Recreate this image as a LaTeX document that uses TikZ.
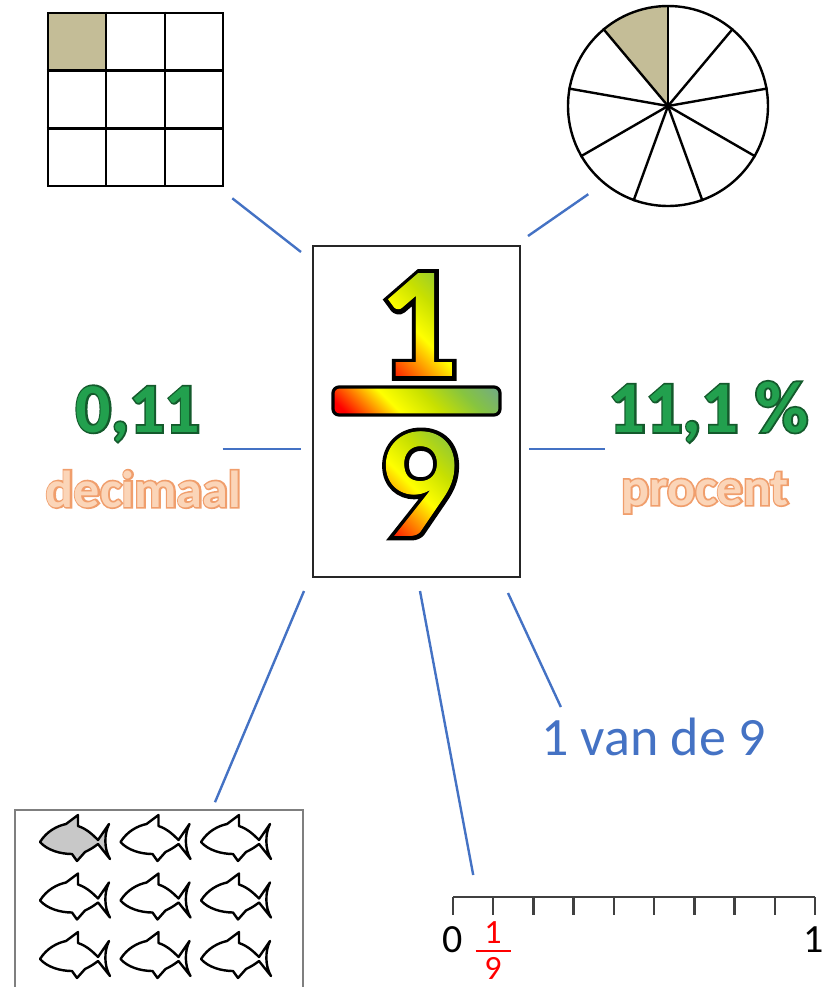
\documentclass[tikz,border=0pt]{standalone}
\usepackage{fontspec}
\setmainfont{Carlito}
\usetikzlibrary{positioning,calc,fadings}

\definecolor{tan}{HTML}{C4BD97}
\definecolor{linkblue}{HTML}{4472C4}
\definecolor{valgreen}{HTML}{22A04E}
\definecolor{valdark}{HTML}{145A2C}
\definecolor{peach}{HTML}{FBD5B8}
\definecolor{peachdark}{HTML}{F09E6C}
\definecolor{fishgray}{HTML}{C8C8C8}
\definecolor{boxgray}{HTML}{7F7F7F}
\definecolor{axisgray}{HTML}{404040}
\definecolor{figorange}{HTML}{FF8C00}
\definecolor{figlime}{HTML}{C8E000}
\definecolor{figgreen}{HTML}{86C440}
\definecolor{figblue}{HTML}{5B8FCF}

\pgfdeclarehorizontalshading{numfill}{100bp}{color(0bp)=(red); color(18bp)=(red); color(34bp)=(figorange); color(47bp)=(yellow); color(63bp)=(figlime); color(82bp)=(figgreen); color(100bp)=(figgreen)}
\pgfdeclarehorizontalshading{barfill}{100bp}{color(0bp)=(red); color(20bp)=(red); color(40bp)=(yellow); color(55bp)=(figlime); color(70bp)=(figgreen); color(100bp)=(figblue)}

\newcommand\bigfig{\rmfamily\bfseries\fontsize{80}{80}\selectfont}
% outline colour under the text, drawn with a stroked copy
\newcommand\edged[3][5]{\rlap{\textcolor{#2}{\addfontfeature{FakeBold=#1}#3}}#3}

% the two numerals as masks for the colour run
\begin{tikzfadingfrompicture}[name=onefade]
  \node[text=transparent!0, inner sep=0pt, font=\bigfig] {1};
\end{tikzfadingfrompicture}
\begin{tikzfadingfrompicture}[name=ninefade]
  \node[text=transparent!0, inner sep=0pt, font=\bigfig] {9};
\end{tikzfadingfrompicture}

\tikzset{fish/.pic = {
  \draw[line width=1.2pt, line join=round, pic actions] (-35,3) .. controls (-28,-8) and (-18,-13) .. (-9,-15)
    -- (3,-24) -- (3,-13) .. controls (12,-10) and (18,-4) .. (23,1) -- (34,-15)
    .. controls (29,-5) and (29,10) .. (35,20) -- (23,5) .. controls (18,9) and (14,11) .. (10,13)
    -- (2,22) -- (-3,15) .. controls (-15,15) and (-28,11) .. cycle;
  \fill (-19,-3) circle (2.5);
}}

\begin{document}
\begin{tikzpicture}[x=0.5pt, y=-0.5pt, node distance=6.5pt,
    link/.style = {draw=linkblue, line width=1.2pt},
    fracbox/.style = {draw=black!85, line width=1pt, minimum width=103.5pt, minimum height=165.5pt},
    fracbar/.style = {draw=black, line width=1.6pt, rounded corners=3pt, minimum width=83.5pt, minimum height=14pt,
                      shade, shading=barfill, shading angle=45},
    bignum/.style = {font=\bigfig\addfontfeature{FakeBold=5}, inner sep=0pt},
    numfade/.style = {shading=numfill, shading angle=45, fit fading=false, path fading=#1},
    gridbox/.style = {draw, line width=1.3pt, minimum width=87.5pt, minimum height=86.5pt, inner sep=0pt,
                      path picture={\fill[tan] (path picture bounding box.north west) rectangle
                      ($(path picture bounding box.north west)!1/3!(path picture bounding box.south east)$);}},
    cell/.style = {line width=1.3pt},
    disc/.style = {circle, draw, line width=1.2pt, minimum size=100pt, inner sep=0pt,
                   path picture={\fill[tan] (path picture bounding box.center) -- +(-90:100)
                   arc[start angle=-90, end angle=-130, radius=100] -- cycle;}},
    valtxt/.style = {font=\bfseries\fontsize{35}{35}\selectfont, text=valgreen, inner sep=0pt, anchor=base},
    kindtxt/.style = {font=\bfseries\fontsize{26}{26}\selectfont, text=peach, inner sep=0pt, anchor=base},
    fishbox/.style = {draw=boxgray, line width=0.8pt, minimum width=144pt, minimum height=95pt},
    tickline/.style = {draw=axisgray, line width=1.2pt},
    axistxt/.style = {font=\fontsize{20}{20}\selectfont, inner sep=0pt, anchor=base},
    smallnum/.style = {font=\fontsize{17}{17}\selectfont, text=red, inner sep=0pt}]
  \useasboundingbox (0,0) rectangle (836,987);

  % centre: 1/9
  \node[fracbox] (frac) at (416.5,411.5) {};
  \node[bignum] (one) at (418,325) {1};
  \shade[numfade=onefade, fading transform={shift={(one.center)}}] (one.south west) rectangle (one.north east);
  \node[fracbar] (bar) at (416.5,401) {};
  \node[bignum] (nine) at (418,484) {9};
  \shade[numfade=ninefade, fading transform={shift={(nine.center)}}] (nine.south west) rectangle (nine.north east);

  % square and circle
  \node[gridbox] (grid) at (135.5,99.5) {};
  \foreach \f in {1,2} {
    \draw[cell] ($(grid.north west)!\f/3!(grid.north east)$) -- ($(grid.south west)!\f/3!(grid.south east)$);
    \draw[cell] ($(grid.north west)!\f/3!(grid.south west)$) -- ($(grid.north east)!\f/3!(grid.south east)$);
  }
  \node[disc] (pie) at (668,106) {};
  \foreach \a in {10,50,...,330}
    \draw[line width=1.2pt] (pie.center) -- (pie.\a);

  % decimal and percent
  \node[valtxt] (dec) at (138,432) {\edged{valdark}{0,11}};
  \node[kindtxt] (declbl) at (143.5,507) {\edged[6.5]{peachdark}{decimaal}};
  \node[valtxt, font=\bfseries\fontsize{36.5}{36.5}\selectfont] (pct) at (708.5,432) {\edged{valdark}{11,1 \%}};
  \node[kindtxt] (pctlbl) at (705,505) {\edged[6.5]{peachdark}{procent}};

  % fishes
  \node[fishbox] (fishes) at (159,905) {};
  \foreach \r in {0,1,2}
    \foreach \c in {0,1,2} {
      \ifnum\r\c=0 \def\fc{fishgray}\else\def\fc{white}\fi
      \pic[fill=\fc] at ({75+80.5*\c},{839+58.5*\r}) {fish};
    }

  % number line
  \foreach \i in {0,...,9}
    \coordinate (t\i) at ({453+40.22*\i},897);
  \draw[tickline] (t0) -- (t9);
  \foreach \i in {0,...,9}
    \draw[tickline] (t\i) -- ++(0,18);
  \node[axistxt] (zero) at (453,952) {0};
  \node[axistxt] (unit) at (814,952) {1};
  \node[smallnum] (ninthtop) at (493,933) {1};
  \node[smallnum, below=of ninthtop] (ninthbot) {9};
  \draw[red, line width=1pt] ($(ninthtop.south)!0.5!(ninthbot.north)+(-17.5,0)$) -- ($(ninthtop.south)!0.5!(ninthbot.north)+(17.5,0)$);

  \node[font=\fontsize{27}{27}\selectfont, text=linkblue, inner sep=0pt, anchor=base] (vande) at (653.5,755) {1 van de 9};

  % links to the centre
  \draw[link] ([shift={(8,11)}]grid.south east) -- ([shift={(-11,7)}]frac.north west);
  \draw[link] ([shift={(-12,13)}]pie.228) -- ([shift={(7,-9)}]frac.north east);
  \draw[link] ([shift={(22,17)}]dec.base east) -- ([shift={(-11,37.5)}]frac.west);
  \draw[link] ([shift={(8,37.5)}]frac.east) -- ([shift={(-3,17)}]pct.base west);
  \draw[link] ([shift={(-8,13)}]frac.south west) -- ([shift={(56,-7)}]fishes.north);
  \draw[link] ([shift={(3.5,13)}]frac.south) -- ([shift={(-20,-22)}]t1);
  \draw[link] ([shift={(-13,15)}]frac.south east) -- ([shift={(20,-48)}]vande.base west);
\end{tikzpicture}
\end{document}
